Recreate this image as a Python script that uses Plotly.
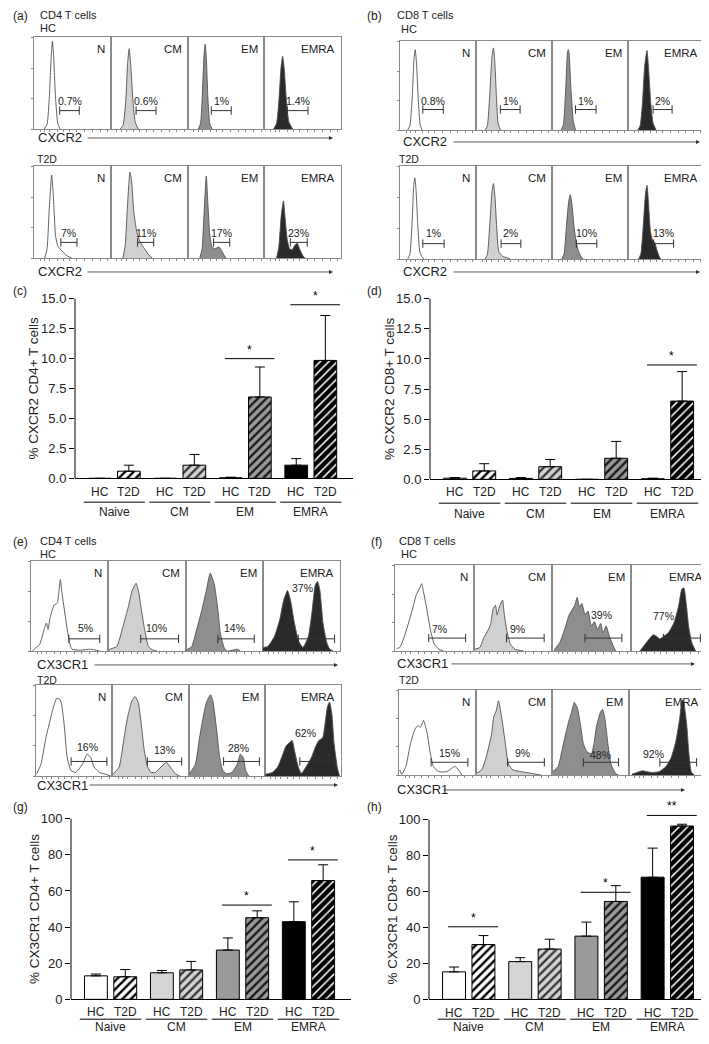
import plotly.graph_objects as go

W, H = 709, 1044
FONT = 'Liberation Sans, Arial, sans-serif'

subsets = ['N', 'CM', 'EM', 'EMRA']
hist_fill = ['#ffffff', '#d0d0d0', '#8e8e8e', '#2a2a2a']

# ---- flow histograms: (channel, relative count), channel scaled 0-1 across each plot
cxcr2_cd4_hc = [
    [(0.13, 0), (0.17, 0.05), (0.2, 0.35), (0.225, 0.8), (0.24, 0.95), (0.255, 0.8), (0.28, 0.35), (0.31, 0.06), (0.34, 0)],
    [(0.12, 0), (0.16, 0.04), (0.195, 0.3), (0.22, 0.72), (0.24, 0.87), (0.26, 0.7), (0.29, 0.3), (0.32, 0.07), (0.36, 0)],
    [(0.14, 0), (0.17, 0.06), (0.195, 0.4), (0.215, 0.8), (0.23, 0.92), (0.245, 0.78), (0.265, 0.35), (0.29, 0.06), (0.32, 0)],
    [(0.12, 0), (0.16, 0.06), (0.19, 0.3), (0.22, 0.68), (0.24, 0.79), (0.26, 0.65), (0.29, 0.3), (0.32, 0.08), (0.37, 0)],
]
cxcr2_cd4_t2d = [
    [(0.14, 0), (0.17, 0.1), (0.2, 0.55), (0.23, 0.9), (0.25, 0.7), (0.28, 0.25), (0.31, 0.13), (0.35, 0.09), (0.42, 0.03), (0.49, 0)],
    [(0.16, 0), (0.19, 0.15), (0.22, 0.6), (0.25, 0.93), (0.27, 0.85), (0.3, 0.5), (0.34, 0.28), (0.38, 0.18), (0.44, 0.1), (0.5, 0.03), (0.54, 0)],
    [(0.16, 0), (0.19, 0.1), (0.22, 0.55), (0.245, 0.89), (0.265, 0.6), (0.29, 0.25), (0.32, 0.12), (0.36, 0.1), (0.41, 0.12), (0.45, 0.07), (0.5, 0)],
    [(0.16, 0), (0.19, 0.12), (0.22, 0.45), (0.25, 0.62), (0.27, 0.45), (0.3, 0.2), (0.33, 0.1), (0.36, 0.09), (0.4, 0.14), (0.43, 0.16), (0.46, 0.1), (0.5, 0.03), (0.53, 0)],
]
cxcr2_cd8_hc = [
    [(0.1, 0), (0.13, 0.05), (0.16, 0.35), (0.185, 0.8), (0.2, 0.9), (0.215, 0.78), (0.24, 0.35), (0.265, 0.06), (0.29, 0)],
    [(0.12, 0), (0.15, 0.05), (0.18, 0.38), (0.21, 0.82), (0.23, 0.92), (0.245, 0.8), (0.27, 0.35), (0.29, 0.08), (0.32, 0)],
    [(0.12, 0), (0.15, 0.06), (0.18, 0.45), (0.205, 0.88), (0.215, 0.9), (0.225, 0.86), (0.25, 0.45), (0.28, 0.1), (0.31, 0)],
    [(0.13, 0), (0.16, 0.05), (0.19, 0.3), (0.22, 0.72), (0.25, 0.89), (0.27, 0.7), (0.3, 0.3), (0.33, 0.08), (0.37, 0)],
]
cxcr2_cd8_t2d = [
    [(0.1, 0), (0.13, 0.05), (0.16, 0.4), (0.18, 0.78), (0.195, 0.87), (0.21, 0.75), (0.235, 0.35), (0.26, 0.08), (0.29, 0.02), (0.32, 0)],
    [(0.12, 0), (0.15, 0.05), (0.18, 0.35), (0.21, 0.72), (0.23, 0.81), (0.25, 0.66), (0.275, 0.3), (0.3, 0.08), (0.35, 0.03), (0.42, 0.01), (0.45, 0)],
    [(0.13, 0), (0.16, 0.06), (0.19, 0.35), (0.22, 0.62), (0.24, 0.69), (0.26, 0.6), (0.29, 0.35), (0.32, 0.17), (0.35, 0.08), (0.38, 0.03), (0.41, 0)],
    [(0.14, 0), (0.17, 0.06), (0.2, 0.35), (0.23, 0.7), (0.25, 0.79), (0.27, 0.6), (0.295, 0.3), (0.32, 0.21), (0.35, 0.18), (0.38, 0.1), (0.41, 0.03), (0.43, 0)],
]
cx3cr1_cd4_hc = [
    [(0.02, 0), (0.04, 0.02), (0.11, 0.07), (0.17, 0.24), (0.2, 0.31), (0.22, 0.24), (0.25, 0.38), (0.3, 0.51), (0.34, 0.53),
     (0.36, 0.65), (0.38, 0.79), (0.4, 0.65), (0.45, 0.35), (0.49, 0.13), (0.53, 0.02), (0.64, 0.01), (0.77, 0.02), (0.89, 0)],
    [(0.0, 0), (0.02, 0.02), (0.11, 0.05), (0.19, 0.27), (0.26, 0.49), (0.31, 0.67), (0.36, 0.75), (0.39, 0.67), (0.43, 0.45),
     (0.47, 0.24), (0.52, 0.05), (0.58, 0.01), (0.63, 0)],
    [(0.0, 0), (0.01, 0.01), (0.08, 0.05), (0.145, 0.24), (0.21, 0.45), (0.27, 0.67), (0.32, 0.86), (0.37, 0.75), (0.42, 0.45),
     (0.45, 0.2), (0.5, 0.04), (0.54, 0.0), (0.67, 0.02), (0.71, 0)],
    [(0.0, 0.04), (0.065, 0.05), (0.15, 0.16), (0.22, 0.35), (0.27, 0.56), (0.32, 0.67), (0.36, 0.56), (0.41, 0.31), (0.465, 0.11),
     (0.52, 0.04), (0.59, 0.16), (0.64, 0.45), (0.68, 0.73), (0.71, 0.77), (0.74, 0.67), (0.78, 0.31), (0.83, 0.09), (0.87, 0.02), (0.91, 0)],
]
cx3cr1_cd4_t2d = [
    [(0.01, 0.025), (0.065, 0.13), (0.13, 0.42), (0.17, 0.56), (0.22, 0.73), (0.27, 0.85), (0.3, 0.85), (0.33, 0.81), (0.37, 0.56),
     (0.41, 0.2), (0.46, 0.06), (0.52, 0.04), (0.61, 0.13), (0.67, 0.24), (0.72, 0.2), (0.76, 0.1), (0.83, 0.04), (0.91, 0.02), (0.98, 0)],
    [(0.01, 0.02), (0.09, 0.1), (0.15, 0.39), (0.2, 0.64), (0.26, 0.83), (0.3, 0.87), (0.34, 0.81), (0.38, 0.57), (0.42, 0.28),
     (0.465, 0.1), (0.51, 0.04), (0.565, 0.04), (0.64, 0.1), (0.71, 0.15), (0.76, 0.1), (0.83, 0.025), (0.89, 0)],
    [(0.01, 0.02), (0.09, 0.13), (0.145, 0.42), (0.2, 0.68), (0.24, 0.82), (0.29, 0.89), (0.32, 0.82), (0.37, 0.5), (0.41, 0.2),
     (0.45, 0.06), (0.5, 0.025), (0.57, 0.04), (0.64, 0.13), (0.68, 0.24), (0.72, 0.2), (0.75, 0.06), (0.79, 0)],
    [(0.01, 0.02), (0.1, 0.04), (0.17, 0.1), (0.22, 0.2), (0.28, 0.33), (0.33, 0.37), (0.36, 0.39), (0.39, 0.28), (0.44, 0.1),
     (0.48, 0.03), (0.54, 0.1), (0.61, 0.2), (0.67, 0.33), (0.71, 0.39), (0.76, 0.42), (0.79, 0.57), (0.82, 0.75), (0.85, 0.81),
     (0.88, 0.68), (0.91, 0.35), (0.95, 0.1), (0.98, 0)],
]
cx3cr1_cd8_hc = [
    [(0.02, 0.03), (0.06, 0.04), (0.12, 0.17), (0.19, 0.38), (0.23, 0.51), (0.27, 0.65), (0.31, 0.72), (0.34, 0.78), (0.36, 0.7),
     (0.4, 0.51), (0.45, 0.25), (0.5, 0.08), (0.56, 0.02), (0.62, 0)],
    [(0.01, 0.02), (0.08, 0.04), (0.13, 0.15), (0.19, 0.25), (0.22, 0.32), (0.25, 0.49), (0.28, 0.53), (0.3, 0.42), (0.33, 0.51),
     (0.37, 0.59), (0.39, 0.44), (0.43, 0.21), (0.47, 0.08), (0.53, 0.02), (0.64, 0)],
    [(0.025, 0.01), (0.1, 0.1), (0.16, 0.25), (0.22, 0.42), (0.29, 0.53), (0.32, 0.62), (0.35, 0.51), (0.38, 0.55), (0.42, 0.42),
     (0.46, 0.46), (0.5, 0.29), (0.54, 0.34), (0.58, 0.25), (0.62, 0.32), (0.65, 0.21), (0.69, 0.29), (0.73, 0.17), (0.78, 0.06), (0.81, 0)],
    [(0.12, 0), (0.17, 0.06), (0.23, 0.13), (0.29, 0.19), (0.33, 0.17), (0.375, 0.14), (0.42, 0.17), (0.48, 0.21), (0.55, 0.32),
     (0.61, 0.51), (0.655, 0.72), (0.68, 0.73), (0.71, 0.55), (0.74, 0.29), (0.78, 0.1), (0.83, 0)],
]
cx3cr1_cd8_t2d = [
    [(0.01, 0.06), (0.035, 0.01), (0.09, 0.1), (0.15, 0.37), (0.21, 0.54), (0.25, 0.58), (0.28, 0.56), (0.32, 0.64), (0.37, 0.48),
     (0.41, 0.25), (0.45, 0.1), (0.52, 0.04), (0.625, 0.04), (0.69, 0.08), (0.73, 0.1), (0.78, 0.06), (0.82, 0)],
    [(0.01, 0.02), (0.08, 0.06), (0.14, 0.21), (0.21, 0.48), (0.24, 0.69), (0.27, 0.75), (0.3, 0.87), (0.32, 0.79), (0.35, 0.63),
     (0.39, 0.37), (0.43, 0.13), (0.49, 0.06), (0.6, 0.04), (0.73, 0.02), (0.86, 0)],
    [(0.01, 0.04), (0.08, 0.1), (0.14, 0.33), (0.21, 0.6), (0.26, 0.75), (0.29, 0.85), (0.33, 0.79), (0.37, 0.6), (0.41, 0.37),
     (0.46, 0.27), (0.515, 0.25), (0.55, 0.37), (0.58, 0.56), (0.63, 0.73), (0.66, 0.77), (0.69, 0.67), (0.73, 0.37), (0.77, 0.13),
     (0.83, 0.02), (0.87, 0)],
    [(0.045, 0.01), (0.11, 0.03), (0.18, 0.05), (0.24, 0.04), (0.31, 0.03), (0.4, 0.04), (0.49, 0.1), (0.56, 0.21), (0.62, 0.4),
     (0.67, 0.67), (0.7, 0.88), (0.72, 0.86), (0.76, 0.6), (0.79, 0.25), (0.82, 0.04), (0.86, 0)],
]

# gate bounds (channel) and gated percentages
cxcr2_cd4_hc_gate = [(0.335, 0.59), (0.33, 0.59), (0.31, 0.57), (0.30, 0.57)]
cxcr2_cd4_t2d_gate = [(0.35, 0.56), (0.35, 0.56), (0.34, 0.55), (0.34, 0.56)]
cxcr2_cd8_hc_gate = [(0.30, 0.57), (0.32, 0.58), (0.31, 0.58), (0.33, 0.58)]
cxcr2_cd8_t2d_gate = [(0.30, 0.58), (0.33, 0.59), (0.32, 0.59), (0.335, 0.60)]
cx3cr1_cd4_hc_gate = [(0.49, 0.89), (0.42, 0.91), (0.42, 0.89), (0.46, 0.93)]
cx3cr1_cd4_t2d_gate = [(0.46, 0.93), (0.46, 0.91), (0.46, 0.93), (0.46, 0.93)]
cx3cr1_cd8_hc_gate = [(0.43, 0.9), (0.42, 0.9), (0.42, 0.89), (0.42, 0.89)]
cx3cr1_cd8_t2d_gate = [(0.42, 0.9), (0.42, 0.9), (0.41, 0.87), (0.41, 0.89)]

cxcr2_cd4_hc_pct = ['0.7%', '0.6%', '1%', '1.4%']
cxcr2_cd4_t2d_pct = ['7%', '11%', '17%', '23%']
cxcr2_cd8_hc_pct = ['0.8%', '1%', '1%', '2%']
cxcr2_cd8_t2d_pct = ['1%', '2%', '10%', '13%']
cx3cr1_cd4_hc_pct = ['5%', '10%', '14%', '37%']
cx3cr1_cd4_t2d_pct = ['16%', '13%', '28%', '62%']
cx3cr1_cd8_hc_pct = ['7%', '9%', '39%', '77%']
cx3cr1_cd8_t2d_pct = ['15%', '9%', '48%', '92%']

# ---- bar charts: mean and SEM
groups = ['Naive', 'CM', 'EM', 'EMRA']
conds = ['HC', 'T2D']
cd4_cxcr2_hc, cd4_cxcr2_hc_sem = [0, 0, 0.05, 1.1], [0, 0, 0.05, 0.55]
cd4_cxcr2_t2d, cd4_cxcr2_t2d_sem = [0.6, 1.1, 6.8, 9.85], [0.5, 0.9, 2.5, 3.75]
cd8_cxcr2_hc, cd8_cxcr2_hc_sem = [0.1, 0.08, 0, 0.05], [0.05, 0.07, 0, 0.05]
cd8_cxcr2_t2d, cd8_cxcr2_t2d_sem = [0.7, 1.05, 1.75, 6.5], [0.6, 0.6, 1.4, 2.45]
cd4_cx3cr1_hc, cd4_cx3cr1_hc_sem = [13, 14.7, 27.3, 43], [1, 1.3, 6.7, 11]
cd4_cx3cr1_t2d, cd4_cx3cr1_t2d_sem = [12.5, 16.3, 45.2, 65.8], [4, 4.7, 3.8, 8.7]
cd8_cx3cr1_hc, cd8_cx3cr1_hc_sem = [15.3, 21, 35.2, 68], [2.7, 2.2, 7.8, 16.2]
cd8_cx3cr1_t2d, cd8_cx3cr1_t2d_sem = [30.5, 28, 54.5, 96.5], [5, 5.5, 8.8, 1]
# significance: (group index, bracket height, stars)
cd4_cxcr2_sig = [(2, 10.0, '*'), (3, 14.5, '*')]
cd8_cxcr2_sig = [(3, 9.5, '*')]
cd4_cx3cr1_sig = [(2, 52.2, '*'), (3, 77.2, '*')]
cd8_cx3cr1_sig = [(0, 40.4, '*'), (2, 59.6, '*'), (3, 102.4, '**')]

bar_hc_color = ['#ffffff', '#d4d4d4', '#9a9a9a', '#000000']
bar_t2d_bg = ['#ffffff', '#d4d4d4', '#9a9a9a', '#000000']
bar_t2d_fg = ['#000000', '#3a3a3a', '#1a1a1a', '#ffffff']
bar_t2d_solid = [0.4, 0.4, 0.4, 0.25]


def px_x(x):
    return x / W


def px_y(y):
    return 1 - y / H


fig = go.Figure()
axes = {}
annotations = []
shapes = []
ax_count = [0]


def new_axes(xdom, ydom, xa, ya):
    ax_count[0] += 1
    s = '' if ax_count[0] == 1 else str(ax_count[0])
    axes['xaxis' + s] = dict(domain=xdom, anchor='y' + s, **xa)
    axes['yaxis' + s] = dict(domain=ydom, anchor='x' + s, **ya)
    return 'x' + s, 'y' + s


def txt(x, y, s, size, xanchor='left', color='#222'):
    annotations.append(dict(x=px_x(x), y=px_y(y), xref='paper', yref='paper', text=s, showarrow=False,
                            font=dict(size=size, family=FONT, color=color), xanchor=xanchor, yanchor='middle'))


def arrow(x0, x1, y):
    annotations.append(dict(x=px_x(x1), y=px_y(y), xref='paper', yref='paper', ax=-(x1 - x0), ay=0,
                            showarrow=True, arrowhead=2, arrowsize=1, arrowwidth=0.8, arrowcolor='#333', text=''))


# ---- histogram rows
hist_rows = [
    dict(curves=cxcr2_cd4_hc, gates=cxcr2_cd4_hc_gate, pct=cxcr2_cd4_hc_pct, box=(26, 333, 29, 122), gy=0.2,
         lab=[None, None, None, None], ly=0.3),
    dict(curves=cxcr2_cd4_t2d, gates=cxcr2_cd4_t2d_gate, pct=cxcr2_cd4_t2d_pct, box=(26, 333, 159, 252), gy=0.17,
         lab=[None, None, None, None], ly=0.27),
    dict(curves=cxcr2_cd8_hc, gates=cxcr2_cd8_hc_gate, pct=cxcr2_cd8_hc_pct, box=(392, 696, 33, 123), gy=0.23,
         lab=[None, None, None, None], ly=0.33),
    dict(curves=cxcr2_cd8_t2d, gates=cxcr2_cd8_t2d_gate, pct=cxcr2_cd8_t2d_pct, box=(392, 696, 159, 253), gy=0.165,
         lab=[None, None, None, None], ly=0.28),
    dict(curves=cx3cr1_cd4_hc, gates=cx3cr1_cd4_hc_gate, pct=cx3cr1_cd4_hc_pct, box=(23, 332, 557, 648), gy=0.135,
         lab=[(0.70, 0.26), (0.63, 0.26), (0.64, 0.26), (0.52, 0.70)], ly=None),
    dict(curves=cx3cr1_cd4_t2d, gates=cx3cr1_cd4_t2d_gate, pct=cx3cr1_cd4_t2d_pct, box=(28, 333, 682, 774), gy=0.16,
         lab=[(0.68, 0.32), (0.68, 0.29), (0.66, 0.31), (0.53, 0.47)], ly=None),
    dict(curves=cx3cr1_cd8_hc, gates=cx3cr1_cd8_hc_gate, pct=cx3cr1_cd8_hc_pct, box=(387, 701, 561, 648), gy=0.15,
         lab=[(0.57, 0.26), (0.56, 0.25), (0.63, 0.42), (0.42, 0.41)], ly=None),
    dict(curves=cx3cr1_cd8_t2d, gates=cx3cr1_cd8_t2d_gate, pct=cx3cr1_cd8_t2d_pct, box=(391, 697, 687, 773), gy=0.15,
         lab=[(0.655, 0.26), (0.61, 0.26), (0.635, 0.23), (0.33, 0.25)], ly=None),
]

for row in hist_rows:
    x0, x1, top, bot = row['box']
    w = (x1 - x0) / 4
    for k in range(4):
        xa = dict(range=[0, 1], showgrid=False, zeroline=False, showline=True, mirror=True, linecolor='#8a8a8a',
                  linewidth=1, ticks='outside', ticklen=2, tickcolor='#8a8a8a', showticklabels=False,
                  tickvals=[0.08, 0.14, 0.2, 0.3, 0.38, 0.46, 0.56, 0.66, 0.76, 0.86, 0.96])
        ya = dict(range=[0, 1], showgrid=False, zeroline=False, showline=True, mirror=True, linecolor='#8a8a8a',
                  linewidth=1, ticks='outside' if k == 0 else '', ticklen=2, tickcolor='#8a8a8a',
                  showticklabels=False, tickvals=[0.0, 0.33, 0.66, 0.99])
        xr, yr = new_axes([px_x(x0 + k * w), px_x(x0 + (k + 1) * w)], [px_y(bot), px_y(top)], xa, ya)
        pts = row['curves'][k]
        fig.add_trace(go.Scatter(x=[p[0] for p in pts], y=[p[1] for p in pts], mode='lines', fill='tozeroy',
                                 fillcolor=hist_fill[k], line=dict(color='#505050', width=0.9, shape='spline', smoothing=0.5),
                                 xaxis=xr, yaxis=yr, showlegend=False, hoverinfo='skip'))
        g0, g1 = row['gates'][k]
        fig.add_trace(go.Scatter(x=[g0, g1], y=[row['gy'], row['gy']], mode='lines+markers',
                                 line=dict(color='#333', width=1),
                                 marker=dict(symbol='line-ns', size=6, line=dict(width=1, color='#333')),
                                 xaxis=xr, yaxis=yr, showlegend=False, hoverinfo='skip'))
        if row['lab'][k] is None:
            lx, ly = (g0 + g1) / 2, row['ly']
        else:
            lx, ly = row['lab'][k]
        annotations.append(dict(x=lx, y=ly, xref=xr, yref=yr, text=row['pct'][k], showarrow=False,
                                font=dict(size=10.5, family=FONT, color='#222'), xanchor='center', yanchor='middle'))
        annotations.append(dict(x=0.95, y=0.95, xref=xr + ' domain', yref=yr + ' domain', text=subsets[k],
                                showarrow=False, font=dict(size=11.5, family=FONT, color='#222'),
                                xanchor='right', yanchor='top'))

# panel headers and marker arrows
txt(3, 8, '(a)', 12)
txt(30, 7, 'CD4 T cells', 11)
txt(30, 20, 'HC', 11)
txt(28, 131, 'CXCR2', 13)
arrow(78, 325, 131)
txt(27, 152, 'T2D', 10.5)
txt(28, 266, 'CXCR2', 13)
arrow(78, 325, 266)

txt(357, 8, '(b)', 12)
txt(387, 7, 'CD8 T cells', 11)
txt(391, 21, 'HC', 11)
txt(393, 135, 'CXCR2', 13)
arrow(444, 692, 135)
txt(389, 152, 'T2D', 10.5)
txt(393, 266, 'CXCR2', 13)
arrow(444, 692, 266)

txt(3, 538, '(e)', 12)
txt(30, 537, 'CD4 T cells', 11)
txt(30, 550, 'HC', 11)
txt(27, 662, 'CX3CR1', 13)
arrow(85, 330, 662)
txt(27, 677, 'T2D', 10.5)
txt(27, 783, 'CX3CR1', 13)
arrow(80, 330, 783)

txt(361, 538, '(f)', 12)
txt(389, 537, 'CD8 T cells', 11)
txt(391, 550, 'HC', 11)
txt(387, 661, 'CX3CR1', 13)
arrow(442, 687, 661)
txt(389, 677, 'T2D', 10.5)
txt(387, 788, 'CX3CR1', 13)
arrow(434, 677, 788)

# ---- bar charts
bar_panels = [
    dict(tag='(c)', hc=cd4_cxcr2_hc, hcs=cd4_cxcr2_hc_sem, t2=cd4_cxcr2_t2d, t2s=cd4_cxcr2_t2d_sem, sig=cd4_cxcr2_sig,
         ymax=15, dtick=2.5, fmt='.1f', title='% CXCR2 CD4+ T cells', box=(67, 345, 293, 474), tx=26, tagpos=(3, 285),
         lab_y=(488, 498, 508)),
    dict(tag='(d)', hc=cd8_cxcr2_hc, hcs=cd8_cxcr2_hc_sem, t2=cd8_cxcr2_t2d, t2s=cd8_cxcr2_t2d_sem, sig=cd8_cxcr2_sig,
         ymax=15, dtick=2.5, fmt='.1f', title='% CXCR2 CD8+ T cells', box=(422, 702, 293, 475), tx=381, tagpos=(357, 285),
         lab_y=(488, 499, 510)),
    dict(tag='(g)', hc=cd4_cx3cr1_hc, hcs=cd4_cx3cr1_hc_sem, t2=cd4_cx3cr1_t2d, t2s=cd4_cx3cr1_t2d_sem, sig=cd4_cx3cr1_sig,
         ymax=100, dtick=20, fmt='d', title='% CX3CR1 CD4+ T cells', box=(63, 343, 817, 999), tx=26, tagpos=(3, 805),
         lab_y=(1012, 1019, 1027)),
    dict(tag='(h)', hc=cd8_cx3cr1_hc, hcs=cd8_cx3cr1_hc_sem, t2=cd8_cx3cr1_t2d, t2s=cd8_cx3cr1_t2d_sem, sig=cd8_cx3cr1_sig,
         ymax=100, dtick=20, fmt='d', title='% CX3CR1 CD8+ T cells', box=(421, 702, 818, 999), tx=385, tagpos=(357, 805),
         lab_y=(1013, 1019, 1027)),
]

GROUP_STEP, PAIR_STEP, BAR_W = 2.25, 1.0, 0.78
pos_hc = [g * GROUP_STEP for g in range(len(groups))]
pos_t2 = [p + PAIR_STEP for p in pos_hc]

for bp in bar_panels:
    x0, x1, top, bot = bp['box']
    ymax = bp['ymax']
    ytop_range = ymax * 1.08
    top_px = bot - (bot - top) * ytop_range / ymax
    xa = dict(range=[-0.85, pos_t2[-1] + 0.95], showgrid=False, zeroline=False, showline=True, linecolor='#000',
              linewidth=1, ticks='', showticklabels=False, fixedrange=True)
    ya = dict(range=[0, ytop_range], showgrid=False, zeroline=False, showline=False, ticks='outside', ticklen=5,
              tickwidth=1, tickcolor='#000', tickvals=[i * bp['dtick'] for i in range(int(round(ymax / bp['dtick'])) + 1)],
              tickformat=bp['fmt'], tickfont=dict(size=13, family=FONT, color='#222'), fixedrange=True)
    xr, yr = new_axes([px_x(x0), px_x(x1)], [px_y(bot), px_y(top_px)], xa, ya)
    shapes.append(dict(type='line', xref=xr + ' domain', yref=yr, x0=0, x1=0, y0=0, y1=ymax,
                       line=dict(color='#000', width=1)))
    fig.add_trace(go.Bar(x=pos_hc, y=bp['hc'], width=BAR_W, xaxis=xr, yaxis=yr, showlegend=False,
                         marker=dict(color=bar_hc_color, line=dict(color='#000', width=1)),
                         error_y=dict(type='data', array=bp['hcs'], arrayminus=[0] * 4, symmetric=False,
                                      color='#000', thickness=1, width=5), hoverinfo='skip'))
    # hatched T2D bars, one trace per subset so each gets its own hatch colours
    for g in range(len(groups)):
        fig.add_trace(go.Bar(x=[pos_t2[g]], y=[bp['t2'][g]], width=BAR_W, xaxis=xr, yaxis=yr, showlegend=False,
                             marker=dict(color=bar_t2d_bg[g], line=dict(color='#000', width=1),
                                         pattern=dict(shape='/', fgcolor=bar_t2d_fg[g], bgcolor=bar_t2d_bg[g],
                                                      size=6, solidity=bar_t2d_solid[g], fillmode='replace')),
                             error_y=dict(type='data', array=[bp['t2s'][g]], arrayminus=[0], symmetric=False,
                                          color='#000', thickness=1, width=5), hoverinfo='skip'))
    # significance brackets
    for g, yv, stars in bp['sig']:
        shapes.append(dict(type='line', xref=xr, yref=yr, x0=pos_hc[g] - 0.2, x1=pos_t2[g] + 0.5, y0=yv, y1=yv,
                           line=dict(color='#000', width=1)))
        annotations.append(dict(x=(pos_hc[g] + pos_t2[g] + 0.3) / 2, y=yv, xref=xr, yref=yr, text=stars,
                                showarrow=False, yanchor='bottom', font=dict(size=12, family=FONT, color='#000')))
    # HC / T2D labels, group underline and group names
    ly, gy, ny = bp['lab_y']
    for g, name in enumerate(groups):
        for p, c in ((pos_hc[g], conds[0]), (pos_t2[g], conds[1])):
            annotations.append(dict(x=p, y=px_y(ly), xref=xr, yref='paper', text=c, showarrow=False,
                                    font=dict(size=12, family=FONT, color='#222'), yanchor='middle'))
        shapes.append(dict(type='line', xref=xr, yref='paper', x0=pos_hc[g] - 0.55, x1=pos_t2[g] + 0.55,
                           y0=px_y(gy), y1=px_y(gy), line=dict(color='#000', width=1)))
        annotations.append(dict(x=(pos_hc[g] + pos_t2[g]) / 2, y=px_y(ny), xref=xr, yref='paper', text=name,
                                showarrow=False, font=dict(size=12, family=FONT, color='#222'), yanchor='middle'))
    annotations.append(dict(x=px_x(bp['tx']), y=px_y((top + bot) / 2), xref='paper', yref='paper', text=bp['title'],
                            textangle=-90, showarrow=False, font=dict(size=13.5, family=FONT, color='#222'),
                            xanchor='center', yanchor='middle'))
    txt(bp['tagpos'][0], bp['tagpos'][1], bp['tag'], 12)

fig.update_layout(width=W, height=H, margin=dict(l=0, r=0, t=0, b=0), plot_bgcolor='white', paper_bgcolor='white',
                  showlegend=False, barmode='overlay', annotations=annotations, shapes=shapes,
                  font=dict(family=FONT, size=12, color='#222'), **axes)

fig.write_html('out.html')
